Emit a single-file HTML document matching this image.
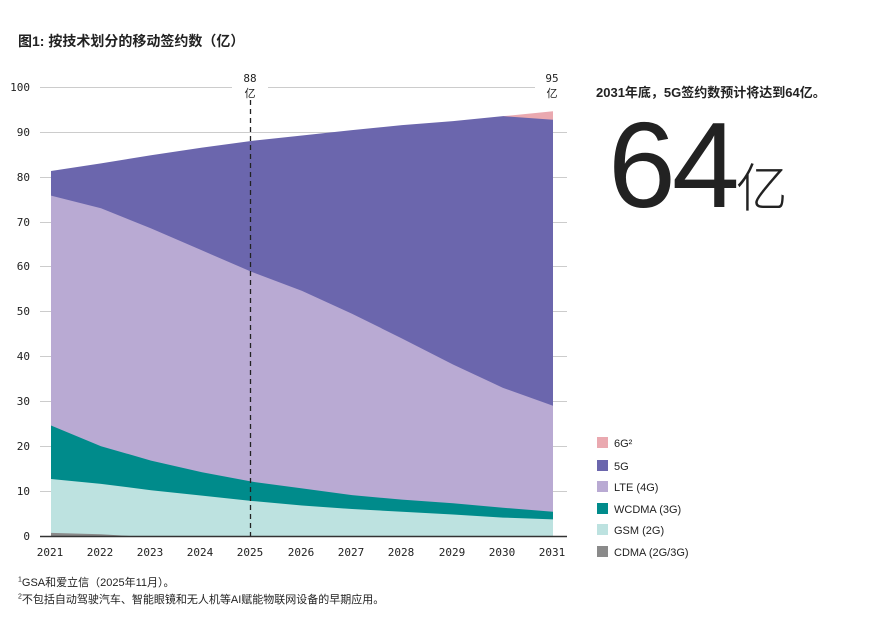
<!DOCTYPE html>
<html><head><meta charset="utf-8"><style>
body{margin:0;background:#fff;width:884px;height:619px;overflow:hidden;font-family:"Liberation Sans","Noto Sans CJK SC",sans-serif;color:#222}
.t{position:absolute}
</style></head><body>
<div class="t" style="left:18px;top:31px;font-size:14px;font-weight:bold">图1: 按技术划分的移动签约数（亿）</div>
<svg class="t" style="left:0;top:0" width="884" height="619">
<g stroke="#ccc" stroke-width="1">
<line x1="40" x2="232" y1="87.5" y2="87.5"/><line x1="268" x2="535" y1="87.5" y2="87.5"/>
<line x1="40" x2="567" y1="132.5" y2="132.5"/><line x1="40" x2="567" y1="177.5" y2="177.5"/>
<line x1="40" x2="567" y1="222.5" y2="222.5"/><line x1="40" x2="567" y1="266.5" y2="266.5"/>
<line x1="40" x2="567" y1="311.5" y2="311.5"/><line x1="40" x2="567" y1="356.5" y2="356.5"/>
<line x1="40" x2="567" y1="401.5" y2="401.5"/><line x1="40" x2="567" y1="446.5" y2="446.5"/>
<line x1="40" x2="567" y1="491.5" y2="491.5"/>
</g>
<g transform="matrix(1,0,0,-4.49,0,536)">
<polygon fill="#eaa9b0" points="503,93.5 553,94.6 553,0 503,0"/>
<polygon fill="#6b66ad" points="51,81.3 101,83 151,84.8 202,86.5 252,88 302,89.2 352,90.4 402,91.5 453,92.4 503,93.5 553,92.7 553,0 51,0"/>
<polygon fill="#b9aad3" points="51,75.8 101,73 151,68.5 202,63.6 252,58.8 302,54.6 352,49.5 402,44 453,38.2 503,33 553,29 553,0 51,0"/>
<polygon fill="#008b8b" points="51,24.6 101,20 151,16.8 202,14.2 252,12.1 302,10.6 352,9.1 402,8.1 453,7.3 503,6.3 553,5.4 553,0 51,0"/>
<polygon fill="#bde2e0" points="51,12.7 101,11.6 151,10.2 202,9 252,7.8 302,6.8 352,6 402,5.4 453,4.8 503,4.1 553,3.7 553,0 51,0"/>
<polygon fill="#8a8a8a" points="51,0.7 101,0.4 130,0 51,0"/>
</g>
<line x1="250.5" x2="250.5" y1="100" y2="536" stroke="#222" stroke-width="1.3" stroke-dasharray="5,4"/>
<line x1="40" x2="567" y1="536.5" y2="536.5" stroke="#333" stroke-width="1.5"/>
<g font-family="DejaVu Sans Mono,monospace" font-size="11" fill="#222" text-anchor="end">
<text x="30" y="91">100</text><text x="30" y="136">90</text><text x="30" y="181">80</text><text x="30" y="226">70</text><text x="30" y="270">60</text><text x="30" y="315">50</text><text x="30" y="360">40</text><text x="30" y="405">30</text><text x="30" y="450">20</text><text x="30" y="495">10</text><text x="30" y="540">0</text>
</g>
<g font-family="DejaVu Sans Mono,monospace" font-size="11" fill="#222" text-anchor="middle">
<text x="50" y="556">2021</text><text x="100" y="556">2022</text><text x="150" y="556">2023</text><text x="200" y="556">2024</text><text x="250" y="556">2025</text><text x="301" y="556">2026</text><text x="351" y="556">2027</text><text x="401" y="556">2028</text><text x="452" y="556">2029</text><text x="502" y="556">2030</text><text x="552" y="556">2031</text>
<text x="250" y="82">88</text><text x="552" y="82">95</text>
</g>
<g font-size="11" fill="#222" text-anchor="middle" font-family="Noto Sans CJK SC,sans-serif"><text x="250" y="97">亿</text><text x="552" y="97">亿</text></g>
<g font-size="11" fill="#222">
<rect x="597" y="437" width="11" height="11" fill="#eaa9b0"/><text x="614" y="447">6G²</text>
<rect x="597" y="460" width="11" height="11" fill="#6b66ad"/><text x="614" y="470">5G</text>
<rect x="597" y="481" width="11" height="11" fill="#b9aad3"/><text x="614" y="491">LTE (4G)</text>
<rect x="597" y="503" width="11" height="11" fill="#008b8b"/><text x="614" y="513">WCDMA (3G)</text>
<rect x="597" y="524" width="11" height="11" fill="#bde2e0"/><text x="614" y="534">GSM (2G)</text>
<rect x="597" y="546" width="11" height="11" fill="#8a8a8a"/><text x="614" y="556">CDMA (2G/3G)</text>
</g>
</svg>
<div class="t" style="left:596px;top:82px;font-size:13px;font-weight:bold">2031年底，5G签约数预计将达到64亿。</div>
<div class="t" style="left:608px;top:100px;font-size:122px;font-weight:300;letter-spacing:-4px;line-height:130px">64<span style="font-size:52px;letter-spacing:0">亿</span></div>
<div class="t" style="left:18px;top:574px;font-size:11px"><sup style="font-size:7px">1</sup>GSA和爱立信（2025年11月）。</div>
<div class="t" style="left:18px;top:591px;font-size:11px"><sup style="font-size:7px">2</sup>不包括自动驾驶汽车、智能眼镜和无人机等AI赋能物联网设备的早期应用。</div>
</body></html>
